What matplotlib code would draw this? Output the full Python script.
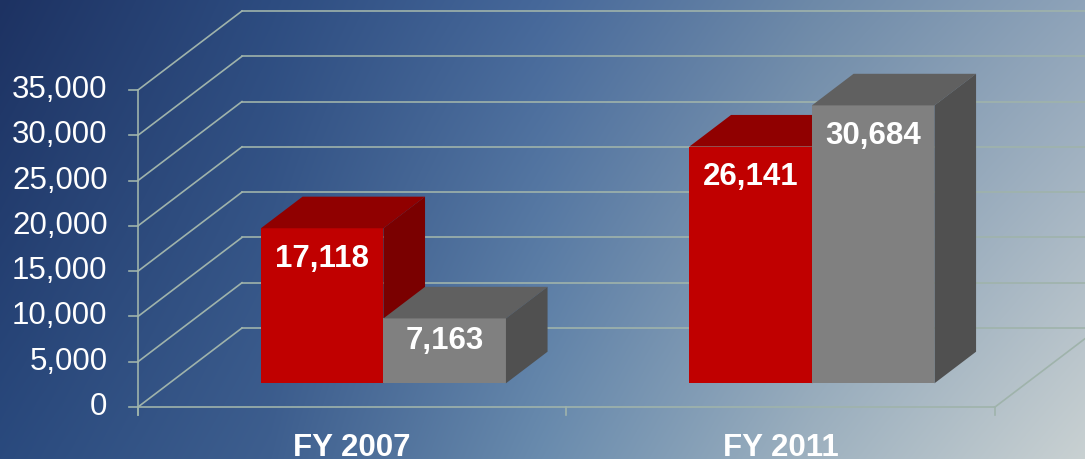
import numpy as np
import matplotlib
matplotlib.use("Agg")
import matplotlib.pyplot as plt
from matplotlib.patches import Polygon

# ---- data ----
categories = ["FY 2007", "FY 2011"]
series_a = [17118, 26141]   # red
series_b = [7163, 30684]    # gray
yticks = [0, 5000, 10000, 15000, 20000, 25000, 30000, 35000]
ytick_labels = ["0", "5,000", "10,000", "15,000", "20,000", "25,000", "30,000", "35,000"]

plt.rcParams['font.family'] = ['Liberation Sans', 'DejaVu Sans']

W_PX, H_PX = 1085, 459
fig = plt.figure(figsize=(W_PX / 100, H_PX / 100), dpi=100)
ax = fig.add_axes([0, 0, 1, 1])
ax.set_axis_off()

# axes limits chosen so category units / value units fill the frame
XL = (-0.322, 2.210)
YL = (-5741, 44937)
ax.set_xlim(*XL)
ax.set_ylim(*YL)

# ---- background gradient ----
def hx(c):
    c = c.lstrip('#')
    return np.array([int(c[i:i + 2], 16) / 255 for i in (0, 2, 4)])

xs = np.linspace(0, 1, W_PX)
top_stops = [(0.0, '#1d3262'), (0.25, '#2d4c80'), (0.5, '#46689a'), (0.75, '#6d89a8'), (1.0, '#8ea3b9')]
bot_stops = [(0.0, '#2a4a7e'), (0.25, '#3e5f8f'), (0.5, '#6a8cae'), (0.75, '#9fb2c0'), (1.0, '#c9d1d2')]

def row(stops):
    px = [s[0] for s in stops]
    cols = np.array([hx(s[1]) for s in stops])
    return np.stack([np.interp(xs, px, cols[:, k]) for k in range(3)], axis=1)

top = row(top_stops)
bot = row(bot_stops)
t = np.linspace(0, 1, H_PX)[:, None, None]
img = top[None, :, :] * (1 - t) + bot[None, :, :] * t
ax.imshow(img, extent=(XL[0], XL[1], YL[0], YL[1]), aspect='auto', zorder=0,
          origin='upper', interpolation='bilinear')

# ---- 3D frame ----
DX, DY = 0.2427, 8722          # depth offset of back wall
grid_col = '#9fb3ab'
lw = 1.2
ncat = len(categories)
for v in yticks:
    ax.plot([0, DX], [v, v + DY], color=grid_col, lw=lw, zorder=1)
    ax.plot([DX, ncat + DX], [v + DY, v + DY], color=grid_col, lw=lw, zorder=1)
# floor
ax.plot([0, ncat], [0, 0], color=grid_col, lw=lw, zorder=1)
ax.plot([ncat, ncat + DX], [0, DY], color=grid_col, lw=lw, zorder=1)
# value axis
ax.plot([0, 0], [-883, yticks[-1]], color=grid_col, lw=lw, zorder=1)
for v in yticks:
    ax.plot([-0.021, 0], [v, v], color=grid_col, lw=lw, zorder=1)
for i in range(ncat + 1):
    ax.plot([i, i], [-883, 0], color=grid_col, lw=lw, zorder=1)

# tick labels
for v, lab in zip(yticks, ytick_labels):
    ax.text(-0.071, v, lab, ha='right', va='center', color='white',
            fontsize=22.5, zorder=5)
for i, lab in enumerate(categories):
    ax.text(i + 0.5, -5410, lab, ha='center', va='baseline', color='white',
            fontsize=22.5, fontweight='bold', zorder=5)

# ---- bars ----
d0, d1 = 0.30, 0.70
BW = 0.2859
colors = [('#c00000', '#900000', '#7a0000'), ('#808080', '#606060', '#505050')]
series = [series_a, series_b]
ddx, ddy = (d1 - d0) * DX, (d1 - d0) * DY
base = d0 * DY
z = 3
for ci in range(ncat):
    cx = ci + 0.5 + d0 * DX
    for si, vals in enumerate(series):
        val = vals[ci]
        x0 = cx - BW + si * BW
        x1 = x0 + BW
        ytop = base + val
        front_c, top_c, side_c = colors[si]
        ax.add_patch(Polygon([(x0, base), (x1, base), (x1, ytop), (x0, ytop)],
                             closed=True, fc=front_c, ec='none', zorder=z))
        ax.add_patch(Polygon([(x0, ytop), (x1, ytop), (x1 + ddx, ytop + ddy), (x0 + ddx, ytop + ddy)],
                             closed=True, fc=top_c, ec='none', zorder=z))
        ax.add_patch(Polygon([(x1, base), (x1, ytop), (x1 + ddx, ytop + ddy), (x1 + ddx, base + ddy)],
                             closed=True, fc=side_c, ec='none', zorder=z))
        off = min(3400, 0.35 * val)
        ax.text((x0 + x1) / 2, ytop - off, f"{val:,}", ha='center', va='center',
                color='white', fontsize=22.5, fontweight='bold', zorder=z + 0.5)
        z += 1

fig.savefig('out.png', dpi=100)
